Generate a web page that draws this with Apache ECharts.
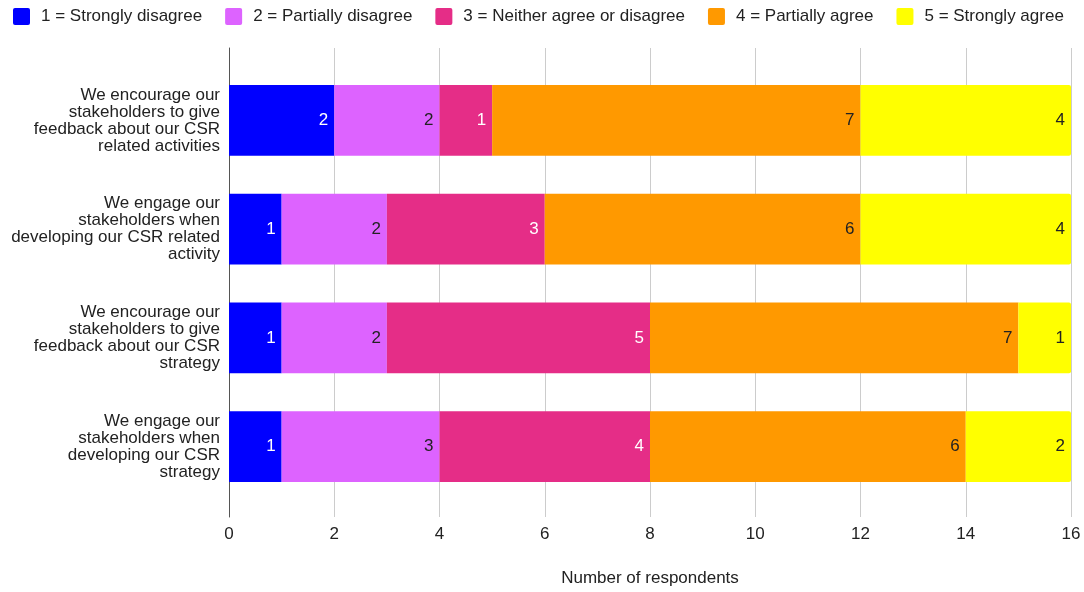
<!DOCTYPE html>
<html>
<head>
<meta charset="utf-8">
<script src="https://cdn.jsdelivr.net/npm/echarts@6/dist/echarts.min.js"></script>
<style>
html,body{margin:0;padding:0;background:#fff;}
#chart{width:1084px;height:592px;}
</style>
</head>
<body>
<div id="chart"></div>
<script>
const categories = [
  "We encourage our\nstakeholders to give\nfeedback about our CSR\nrelated activities",
  "We engage our\nstakeholders when\ndeveloping our CSR related\nactivity",
  "We encourage our\nstakeholders to give\nfeedback about our CSR\nstrategy",
  "We engage our\nstakeholders when\ndeveloping our CSR\nstrategy"
];
const seriesNames = [
  "1 = Strongly disagree",
  "2 = Partially disagree",
  "3 = Neither agree or disagree",
  "4 = Partially agree",
  "5 = Strongly agree"
];
const stronglyDisagree = [2, 1, 1, 1];
const partiallyDisagree = [2, 2, 2, 3];
const neither = [1, 3, 5, 4];
const partiallyAgree = [7, 6, 7, 6];
const stronglyAgree = [4, 4, 1, 2];
const xTicks = [0, 2, 4, 6, 8, 10, 12, 14, 16];

const seriesValues = [stronglyDisagree, partiallyDisagree, neither, partiallyAgree, stronglyAgree];
const colors = ["#0000ff", "#dd63ff", "#e52d87", "#ff9900", "#ffff00"];
const labelColors = ["#ffffff", "#222222", "#ffffff", "#222222", "#222222"];
const FONT = "'Liberation Sans', Arial, sans-serif";
const iconPath = 'path://M2,0 H15 A2,2 0 0 1 17,2 V15 A2,2 0 0 1 15,17 H2 A2,2 0 0 1 0,15 V2 A2,2 0 0 1 2,0 Z';

const chart = echarts.init(document.getElementById('chart'), null, {renderer: 'canvas'});
const option = {
  animation: false,
  textStyle: {fontFamily: FONT},
  color: colors,
  legend: {
    left: 13, top: 8, padding: 0,
    itemWidth: 17, itemHeight: 17, itemGap: 23,
    icon: iconPath,
    data: seriesNames,
    textStyle: {fontSize: 17, color: '#222', fontFamily: FONT, padding: [0, 0, 0, 6]}
  },
  grid: [
    {left: 229, right: 13, top: 48, bottom: 72},
    {left: 229, right: 13, top: 66, bottom: 91}
  ],
  xAxis: [
    {
      type: 'value', gridIndex: 0, min: xTicks[0], max: xTicks[xTicks.length - 1], interval: 2,
      axisLine: {show: false}, axisTick: {show: false},
      splitLine: {show: true, lineStyle: {color: '#cccccc', width: 1}},
      axisLabel: {fontSize: 17, color: '#222', margin: 9, fontFamily: FONT},
      name: 'Number of respondents', nameLocation: 'middle', nameGap: 53,
      nameTextStyle: {fontSize: 17, color: '#222', fontFamily: FONT}
    },
    {
      type: 'value', gridIndex: 1, min: xTicks[0], max: xTicks[xTicks.length - 1], interval: 2,
      show: false
    }
  ],
  yAxis: [
    {
      type: 'value', gridIndex: 0, min: 0, max: 1,
      axisLine: {show: true, lineStyle: {color: '#555555', width: 1}},
      axisTick: {show: false}, axisLabel: {show: false}, splitLine: {show: false}
    },
    {
      type: 'category', gridIndex: 1, data: categories, inverse: true,
      axisLine: {show: false}, axisTick: {show: false}, splitLine: {show: false},
      axisLabel: {fontSize: 17, lineHeight: 17, color: '#222', margin: 9, align: 'right', fontFamily: FONT}
    }
  ],
  series: seriesNames.map((name, i) => ({
    name: name,
    type: 'bar',
    stack: 'total',
    xAxisIndex: 1,
    yAxisIndex: 1,
    barCategoryGap: '35%',
    data: seriesValues[i],
    itemStyle: {color: colors[i], borderRadius: i === 4 ? [0, 2, 2, 0] : 0},
    label: {
      show: true, position: 'insideRight', distance: 6,
      color: labelColors[i], fontSize: 17, fontFamily: FONT
    }
  }))
};
chart.setOption(option);
</script>
</body>
</html>
